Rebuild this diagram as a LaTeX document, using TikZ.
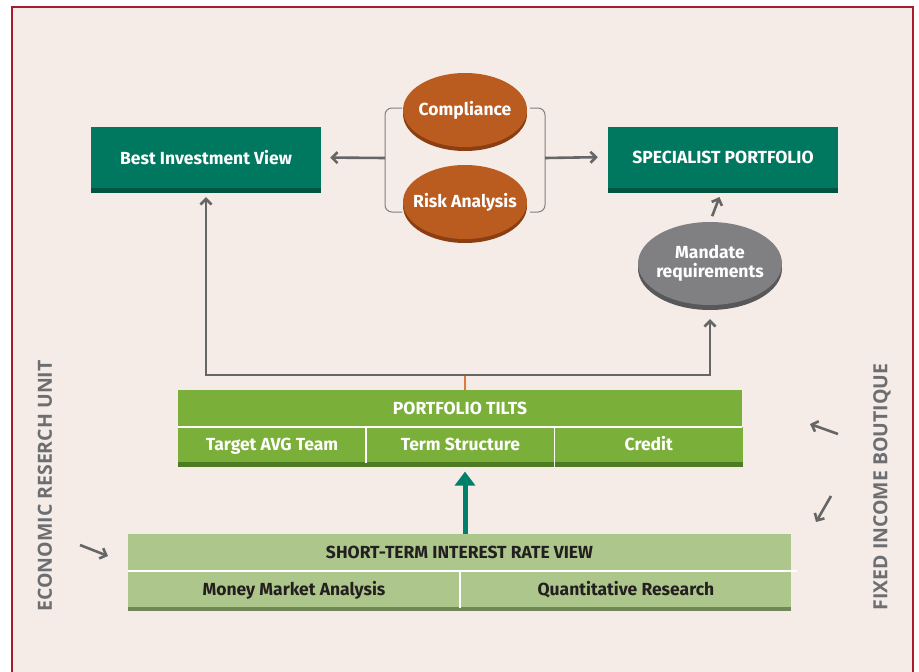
\documentclass[tikz,border=0pt]{standalone}
\usepackage{fontspec}
\setmainfont{Fira Sans}
\newfontfamily\sidefont{Open Sans}
\usetikzlibrary{positioning,shapes.geometric,shadows,arrows.meta}
\definecolor{paper}{HTML}{F5ECE7}
\definecolor{framered}{HTML}{A61E2E}
\definecolor{viewgreen}{HTML}{00775F}
\definecolor{viewdark}{HTML}{005440}
\definecolor{clay}{HTML}{BA5B20}
\definecolor{claydark}{HTML}{8A3E12}
\definecolor{stone}{HTML}{808083}
\definecolor{stonedark}{HTML}{58585A}
\definecolor{tiltgreen}{HTML}{7AAF39}
\definecolor{tiltdark}{HTML}{4D7A22}
\definecolor{ratesgreen}{HTML}{ADC68B}
\definecolor{ratesdark}{HTML}{6F8759}
\definecolor{inkdark}{HTML}{231F20}
\definecolor{linkgray}{HTML}{666666}
\definecolor{sidegray}{HTML}{6D6E71}
\definecolor{fork orange}{HTML}{E07A3A}
\definecolor{pushteal}{HTML}{00806B}
% zero-width text, so the ovals keep their own size
\newcommand{\ovaltext}[1]{\makebox[0pt]{#1}}
\begin{document}
\begin{tikzpicture}[x=1pt,y=-1pt]
	\tikzset{
		label font/.style={font=\bfseries\fontsize{17.5}{19.5}\selectfont},
		green box/.style={label font, fill=viewgreen, text=white, inner sep=0pt,
			minimum width=230pt, minimum height=61pt,
			drop shadow={shadow xshift=0pt, shadow yshift=-5pt, opacity=1, fill=viewdark}},
		oval/.style={ellipse, label font, inner sep=0pt, text=white, align=center},
		brown oval/.style={oval, fill=clay, minimum width=124pt, minimum height=74pt,
			drop shadow={shadow xshift=0pt, shadow yshift=-4pt, opacity=1, fill=claydark}},
		gray oval/.style={oval, fill=stone, minimum width=144pt, minimum height=83pt,
			drop shadow={shadow xshift=0pt, shadow yshift=-5pt, opacity=1, fill=stonedark}},
		tilt cell/.style={label font, fill=tiltgreen, text=white, inner sep=0pt, text height=14.5pt, text depth=2.5pt},
		rate cell/.style={label font, fill=ratesgreen, text=inkdark, inner sep=0pt, text height=14.5pt, text depth=2.5pt},
		divider/.style={white, line width=1.6pt},
		link/.style={linkgray, line width=2.6pt, -{Straight Barb[length=5.5pt,width=11pt]}},
		bracket/.style={gray, line width=1pt, rounded corners=7pt},
		side label/.style={font=\sidefont\bfseries\fontsize{19.5}{21}\selectfont, text=sidegray, rotate=90}
	}
	\useasboundingbox (0,0) rectangle (919,672);
	\fill[white] (0,0) rectangle (919,672);
	\draw[framered, line width=2pt, fill=paper] (12,7) rectangle (913,690);
	
	\node[green box] (best) at (206,157.5) {Best Investment View};
	\node[green box] (special) at (723,157) {SPECIALIST PORTFOLIO};
	\node[brown oval] (comply) at (465,110) {\ovaltext{Compliance}};
	\node[brown oval] (risk) at (465,202) {\ovaltext{Risk Analysis}};
	\node[gray oval] (mandate) at (710,263.5) {\ovaltext{Mandate}\\\ovaltext{requirements}};
	
	\draw[bracket] (402,108) -- (385,108) -- (385,212) -- (402,212);
	\draw[bracket] (530,108) -- (545,108) -- (545,212) -- (530,212);
	\coordinate (left hub) at (385,158);
	\coordinate (right hub) at (545,158);
	\draw[link, shorten >=9pt] (left hub) -- (best.east);
	\draw[link, shorten >=10pt] (right hub) -- (special.west);
	\draw[link, shorten <=6pt, shorten >=10pt] (mandate.north) -- (special.south);
	
	\node[tilt cell, minimum width=564pt, minimum height=37pt] (tilts) at (460,408.5) {PORTFOLIO TILTS};
	\node[tilt cell, minimum width=188pt, minimum height=35pt, below right=0pt of tilts.south west,
		drop shadow={shadow xshift=0pt, shadow yshift=-5pt, opacity=1, fill=tiltdark}] (target) {Target AVG Team};
	\node[tilt cell, minimum width=188pt, minimum height=35pt, right=0pt of target,
		drop shadow={shadow xshift=0pt, shadow yshift=-5pt, opacity=1, fill=tiltdark}] (term) {Term Structure};
	\node[tilt cell, minimum width=188pt, minimum height=35pt, right=0pt of term,
		drop shadow={shadow xshift=0pt, shadow yshift=-5pt, opacity=1, fill=tiltdark}] (credit) {Credit};
	\draw[divider] (tilts.south west) -- (tilts.south east);
	\draw[divider] (target.north east) -- (target.south east);
	\draw[divider] (term.north east) -- (term.south east);
	
	\coordinate (fork) at (465,375);
	\draw[fork orange, line width=1.2pt] (fork) -- (fork |- tilts.north);
	\draw[link, shorten >=9pt] (fork) -| (best.south);
	\draw[link, shorten >=14pt] (fork) -| (mandate.south);
	
	\node[rate cell, minimum width=663pt, minimum height=37pt] (rates) at (459.5,552.5) {SHORT-TERM INTEREST RATE VIEW};
	\node[rate cell, minimum width=332pt, minimum height=36pt, below right=0pt of rates.south west,
		drop shadow={shadow xshift=0pt, shadow yshift=-4pt, opacity=1, fill=ratesdark}] (money) {Money Market Analysis};
	\node[rate cell, minimum width=331pt, minimum height=36pt, right=0pt of money,
		drop shadow={shadow xshift=0pt, shadow yshift=-4pt, opacity=1, fill=ratesdark}] (quant) {Quantitative Research};
	\draw[divider] (rates.south west) -- ([xshift=6pt]rates.south east);
	\draw[divider] (money.north east) -- (money.south east);
	
	\draw[pushteal, line width=5pt, shorten >=9pt, -{Triangle[length=14pt,width=20pt]}] (fork |- rates.north) -- (fork |- term.south);
	
	\node[side label] (econ) at (45,486) {ECONOMIC RESERCH UNIT};
	\node[side label] (fixed) at (882,487) {FIXED INCOME BOUTIQUE};
	\coordinate (econ tail) at (80,545);
	\coordinate (econ head) at (108,556);
	\coordinate (fixed tail a) at (838,434);
	\coordinate (fixed head a) at (810,424);
	\coordinate (fixed tail b) at (831,496);
	\coordinate (fixed head b) at (816,522);
	\draw[link] (econ tail) -- (econ head);
	\draw[link] (fixed tail a) -- (fixed head a);
	\draw[link] (fixed tail b) -- (fixed head b);
\end{tikzpicture}
\end{document}
